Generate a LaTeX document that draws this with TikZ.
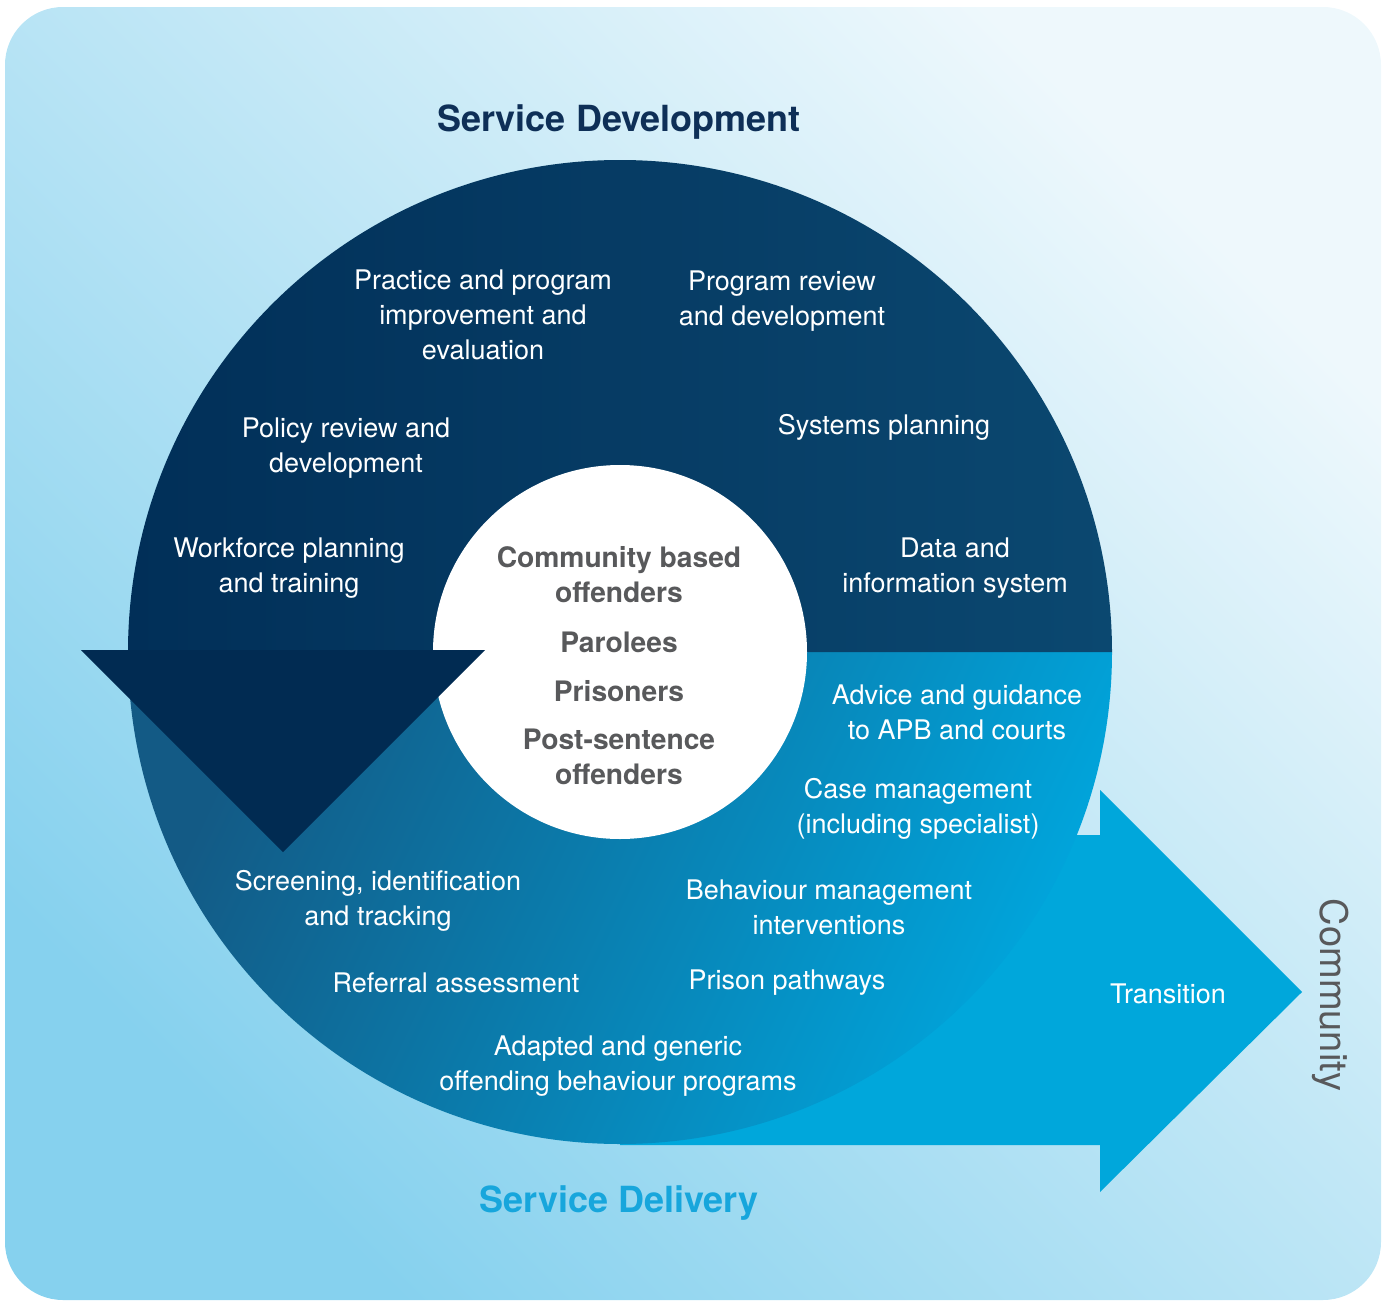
\documentclass[tikz,border=0pt]{standalone}
\usepackage{fontspec}
\setmainfont{TeX Gyre Heros}
\definecolor{bglight}{HTML}{EEF8FC}
\definecolor{bgdark}{HTML}{86D1EE}
\definecolor{navyL}{HTML}{012F58}
\definecolor{navyR}{HTML}{0B4870}
\definecolor{navytri}{HTML}{012B52}
\definecolor{lowdark}{HTML}{135A85}
\definecolor{lowbright}{HTML}{00A6DD}
\definecolor{arrowc}{HTML}{00A7DB}
\definecolor{greytext}{HTML}{58595B}
\definecolor{titlenavy}{HTML}{0E2F57}
\definecolor{titlecyan}{HTML}{17A6DC}
\begin{document}
\begin{tikzpicture}[x=0.5pt,y=-0.5pt,
  lbl/.style={text=white, font=\fontsize{13.5}{17.5}\selectfont, align=center, inner sep=0pt},
  ctr/.style={text=greytext, font=\bfseries\fontsize{14.1}{17.5}\selectfont, align=center, inner sep=0pt},
  ttl/.style={font=\bfseries\fontsize{18}{22}\selectfont, inner sep=0pt}]
\useasboundingbox (0,0) rectangle (1383,1301);
% background
\shade[top color=bglight, bottom color=bgdark, shading angle=-45, rounded corners=29pt] (5,7) rectangle (1381,1300);
% right arrow (transition)
\fill[arrowc] (620,835) -- (1100,835) -- (1100,790) -- (1302,992) -- (1100,1192) -- (1100,1145) -- (620,1145) -- cycle;
% lower half of the cycle
\shade[left color=lowdark, right color=lowbright, shading angle=65] (128,652) arc[start angle=180, end angle=0, radius=492] -- cycle;
% upper half of the cycle
\shade[left color=navyL, right color=navyR] (128,652) arc[start angle=180, end angle=360, radius=492] -- cycle;
% inner white circle
\fill[white] (620,652) circle[radius=187];
% down arrow head
\fill[navytri] (81,650) -- (485,650) -- (283,852) -- cycle;
% titles
\node[ttl, text=titlenavy] (sdev) at (619,122) {Service Development};
\node[ttl, text=titlecyan] (sdel) at (619,1203) {Service Delivery};
\node[rotate=-90, font=\fontsize{19}{22}\selectfont, text=greytext, inner sep=0pt] (comm) at (1331,995) {Community};
% upper labels
\node[lbl] (practice) at (483,315) {Practice and program\\improvement and\\evaluation};
\node[lbl] (progrev) at (782,301) {Program review\\and development};
\node[lbl] (policy) at (346,448) {Policy review and\\development};
\node[lbl] (systems) at (884,427) {Systems planning};
\node[lbl] (workforce) at (289,568) {Workforce planning\\and training};
\node[lbl] (data) at (955,568) {Data and\\information system};
% lower labels
\node[lbl] (advice) at (957,712) {Advice and guidance\\to APB and courts};
\node[lbl] (casem) at (918,809) {Case management\\(including specialist)};
\node[lbl] (screen) at (378,901) {Screening, identification\\and tracking};
\node[lbl] (behav) at (829,907) {Behaviour management\\interventions};
\node[lbl] (referral) at (456,983) {Referral assessment};
\node[lbl] (prison) at (787,983) {Prison pathways};
\node[lbl] (adapted) at (618,1066) {Adapted and generic\\offending behaviour programs};
\node[lbl] (transition) at (1168,994) {Transition};
% centre
\node[ctr] (cbo) at (619,575) {Community based\\offenders};
\node[ctr] (parolees) at (619,642) {Parolees};
\node[ctr] (prisoners) at (619,691) {Prisoners};
\node[ctr] (postsent) at (619,757) {Post-sentence\\offenders};
\end{tikzpicture}
\end{document}
